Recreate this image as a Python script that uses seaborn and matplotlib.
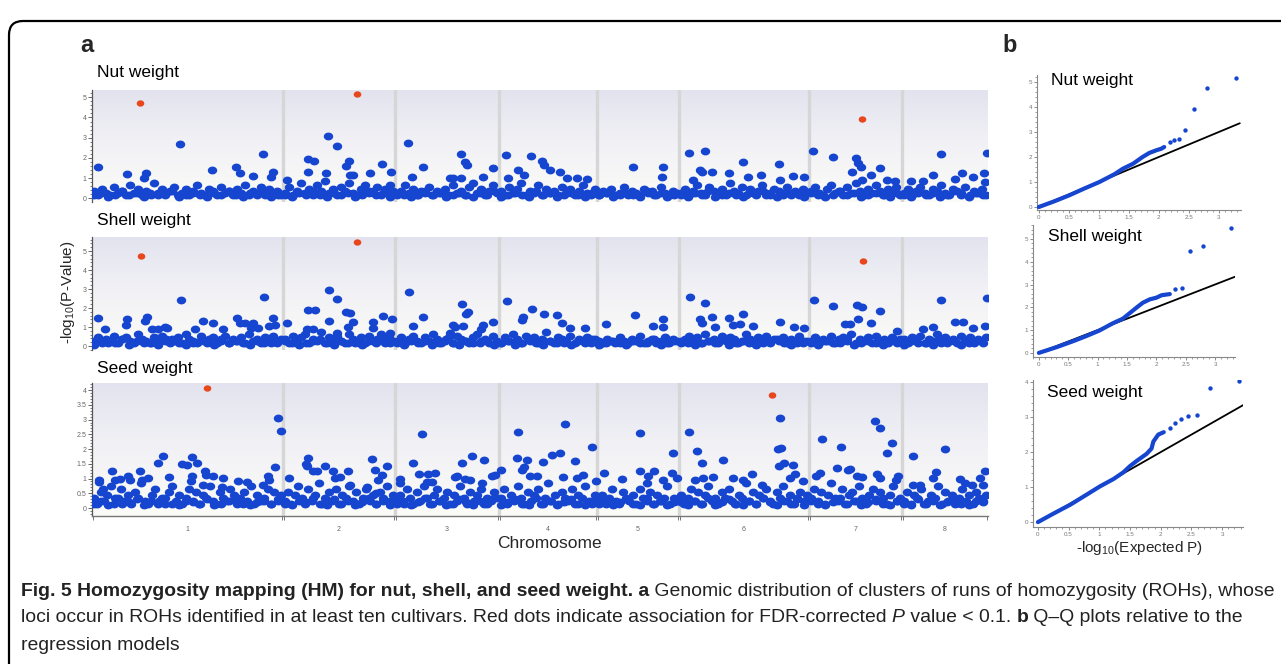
import numpy as np
import pandas as pd
import matplotlib
matplotlib.use("Agg")
import matplotlib.pyplot as plt
import seaborn as sns
from matplotlib.patches import FancyBboxPatch
from matplotlib.transforms import IdentityTransform
from matplotlib.ticker import MultipleLocator, FixedLocator
from matplotlib.colors import LinearSegmentedColormap
from matplotlib.path import Path

# ---------------- data ----------------
chromosomes = ["1", "2", "3", "4", "5", "6", "7", "8"]
chrom_lengths = [191, 112, 104, 98, 82, 130, 93, 86]

# Nut weight: loci above the dense band (position along genome, -log10 P)
nut_pos = [6, 35, 54, 52, 88, 120, 144, 148, 161, 171, 181, 179, 195, 216, 222, 216, 236, 245, 234, 257,
           254, 258, 261, 278, 290, 299, 298, 316, 320, 331, 369, 373, 375, 358, 361, 369, 391, 401, 414, 416,
           426, 439, 450, 452, 432, 458, 468, 475, 485, 495, 541, 571, 570, 597, 613, 608, 610, 601, 620, 637,
           651, 656, 669, 687, 688, 701, 712, 721, 741, 764, 766, 769, 760, 779, 788, 795, 803, 770, 819, 831,
           841, 849, 863, 870, 881, 892, 895, 893]
nut_val = [1.57, 1.2, 1.24, 1.0, 2.69, 1.4, 1.53, 1.27, 1.1, 2.2, 1.32, 1.05, 0.9, 1.93, 1.87, 1.29, 3.1, 2.59, 1.24, 1.86,
           1.6, 1.15, 1.15, 1.27, 1.72, 1.29, 0.66, 2.72, 1.07, 1.53, 2.2, 1.8, 1.65, 1.0, 1.0, 1.0, 1.07, 1.49, 2.15, 1.0,
           1.4, 2.11, 1.86, 1.65, 1.15, 1.4, 1.32, 1.0, 1.0, 0.95, 1.57, 1.53, 1.04, 2.26, 2.36, 1.4, 1.3, 0.9, 1.3, 1.24,
           1.82, 1.04, 1.15, 1.68, 0.9, 1.1, 1.04, 2.36, 2.06, 1.98, 1.73, 1.53, 1.29, 1.15, 1.49, 0.9, 0.87, 0.9, 0.87, 0.87,
           1.15, 2.2, 0.96, 1.24, 1.04, 1.24, 2.26, 0.8]
nut_sig_pos = [48, 265, 770]
nut_sig_val = [4.74, 5.16, 3.93]
nut_band = [
    [.35, .15, .45, .25, .15, .55, .25, .35, .15, .65, .25, .45, .15, .35, .25, .75, .15, .45, .25, .35, .55, .15, .25, .45, .15, .35, .65, .25, .15, .45, .35, .15, .55, .25, .35, .15, .45, .25, .65, .15, .35, .25, .55, .15, .45, .25, .35, .15],
    [.25, .55, .15, .35, .75, .25, .45, .15, .65, .35, .85, .25, .45, .15, .55, .35, .75, .25, .15, .45, .65, .25, .35, .55, .15, .45, .25, .35],
    [.15, .35, .65, .25, .45, .15, .35, .25, .55, .15, .35, .25, .45, .15, .65, .25, .35, .15, .55, .75, .25, .45, .15, .35, .65, .25],
    [.35, .15, .55, .25, .45, .75, .15, .35, .25, .65, .15, .45, .25, .35, .15, .55, .25, .45, .15, .35, .65, .25, .15, .45],
    [.15, .35, .25, .45, .15, .25, .55, .15, .35, .25, .15, .45, .25, .35, .15, .55, .25, .15, .35, .25],
    [.25, .45, .15, .35, .65, .25, .15, .55, .35, .25, .45, .15, .75, .35, .25, .55, .15, .45, .25, .35, .65, .15, .25, .45, .35, .15, .55, .25, .35, .15, .45, .25],
    [.35, .55, .25, .15, .45, .65, .25, .35, .15, .55, .25, .75, .35, .15, .45, .25, .65, .35, .15, .45, .25, .55, .15],
    [.25, .45, .15, .35, .55, .25, .15, .45, .35, .65, .25, .15, .45, .35, .25, .55, .15, .35, .25, .45, .15],
]
nut_floor = [
    [.15, .25, .05, .15, .35, .15, .25, .05, .15, .25, .15, .35, .05, .15, .25, .15, .05, .25, .15, .35, .15, .05, .25, .15, .25, .05, .15],
    [.15, .05, .25, .15, .35, .15, .05, .25, .15, .25, .05, .15, .35, .15, .25, .05],
    [.25, .15, .05, .15, .35, .15, .25, .05, .15, .25, .15, .05, .25, .15, .35],
    [.05, .15, .25, .15, .05, .35, .15, .25, .05, .15, .25, .15, .05, .25],
    [.15, .25, .05, .15, .25, .15, .05, .35, .15, .25, .05, .15],
    [.15, .05, .25, .15, .35, .05, .15, .25, .15, .05, .25, .15, .35, .15, .05, .25, .15, .25, .05],
    [.25, .15, .05, .15, .35, .15, .25, .05, .15, .25, .15, .05, .25],
    [.15, .05, .25, .15, .25, .05, .15, .35, .15, .05, .25, .15],
]

# Shell weight
shell_pos = [6, 13, 35, 34, 55, 53, 60, 66, 73, 75, 103, 111, 121, 131, 145, 148, 153, 161, 159, 166,
             89, 172, 177, 181, 183, 195, 216, 223, 215, 221, 237, 245, 237, 254, 258, 261, 256, 245, 281, 281,
             291, 300, 298, 317, 321, 331, 358, 370, 374, 376, 371, 361, 363, 391, 389, 401, 415, 440, 452, 431,
             430, 465, 470, 478, 493, 514, 543, 561, 571, 571, 598, 613, 608, 610, 620, 623, 637, 641, 648, 651,
             661, 688, 702, 712, 722, 741, 765, 770, 766, 753, 758, 779, 788, 805, 849, 831, 841, 863, 871, 881,
             895, 893]
shell_val = [1.45, 0.87, 1.42, 1.1, 1.54, 1.33, 0.87, 0.87, 1.0, 0.95, 0.87, 1.31, 1.19, 0.87, 1.5, 1.22, 1.22, 1.19, 0.96, 0.93,
             2.4, 2.59, 1.05, 1.45, 1.1, 1.22, 1.89, 1.89, 0.9, 0.87, 2.94, 2.5, 1.33, 1.8, 1.75, 1.28, 1.0, 0.66, 1.28, 0.93,
             1.57, 1.4, 0.7, 2.85, 1.05, 1.54, 0.66, 2.19, 1.7, 1.78, 1.08, 1.1, 1.0, 1.1, 0.87, 1.28, 2.36, 1.94, 1.71, 1.54,
             1.36, 1.63, 1.19, 0.93, 0.93, 1.15, 1.61, 1.05, 1.4, 0.98, 2.6, 2.24, 1.4, 1.19, 1.54, 1.0, 1.5, 1.1, 1.15, 1.66,
             1.05, 1.29, 1.0, 0.93, 2.41, 2.13, 2.17, 2.03, 1.4, 1.15, 1.15, 1.19, 1.82, 0.8, 2.4, 0.87, 1.0, 1.28, 1.28, 0.93,
             2.55, 1.05]
shell_sig_pos = [49, 265, 771]
shell_sig_val = [4.74, 5.47, 4.48]
shell_band = [
    [.25, .45, .15, .35, .25, .55, .15, .35, .45, .25, .15, .65, .35, .25, .15, .45, .25, .55, .35, .15, .25, .45, .15, .65, .35, .25, .15, .55, .25, .35, .45, .15, .25, .55, .15, .35, .25, .45, .15, .65, .25, .35, .15, .45, .25, .55, .15, .35],
    [.35, .15, .55, .25, .45, .65, .15, .35, .25, .75, .15, .45, .35, .55, .25, .15, .65, .35, .25, .45, .15, .55, .25, .35, .65, .15, .45, .25],
    [.25, .45, .15, .35, .55, .25, .15, .45, .25, .65, .35, .15, .25, .45, .15, .55, .35, .25, .15, .45, .65, .25, .35, .15, .55, .25],
    [.15, .45, .25, .65, .35, .15, .55, .25, .45, .15, .35, .75, .25, .15, .45, .35, .25, .55, .15, .35, .25, .45, .15, .35],
    [.25, .15, .35, .25, .15, .45, .25, .15, .35, .25, .55, .15, .25, .35, .15, .25, .45, .15, .35, .25],
    [.15, .35, .55, .25, .45, .15, .65, .25, .35, .15, .55, .25, .45, .35, .15, .25, .65, .35, .15, .45, .25, .55, .15, .35, .25, .45, .15, .35, .25, .55, .15, .25],
    [.25, .45, .15, .35, .25, .55, .15, .35, .45, .25, .65, .15, .35, .25, .45, .15, .55, .25, .35, .15, .45, .25, .35],
    [.35, .15, .45, .25, .55, .15, .35, .25, .65, .15, .45, .25, .35, .15, .55, .25, .45, .15, .35, .25, .45],
]
shell_floor = [
    [.05, .25, .15, .15, .35, .05, .25, .15, .15, .05, .25, .35, .15, .05, .15, .25, .15, .05, .35, .15, .25, .15, .05, .25, .15, .15, .25],
    [.25, .15, .05, .15, .25, .35, .15, .05, .25, .15, .15, .05, .25, .15, .35, .15],
    [.15, .05, .25, .15, .25, .05, .15, .35, .15, .05, .25, .15, .15, .25, .05],
    [.15, .25, .05, .15, .35, .15, .05, .25, .15, .15, .05, .25, .15, .35],
    [.05, .15, .25, .15, .05, .25, .15, .15, .35, .05, .15, .25],
    [.25, .15, .05, .15, .25, .15, .35, .05, .15, .25, .15, .05, .15, .25, .35, .15, .05, .15, .25],
    [.15, .05, .25, .15, .15, .35, .05, .15, .25, .15, .05, .25, .15],
    [.05, .25, .15, .15, .05, .35, .15, .25, .05, .15, .25, .15],
]

# Seed weight
seed_pos = [20, 7, 7, 11, 23, 28, 36, 38, 48, 50, 56, 66, 71, 77, 90, 95, 100, 105, 100, 99,
            113, 114, 111, 121, 131, 130, 146, 155, 171, 176, 177, 183, 186, 189, 197, 214, 215, 216, 221, 225,
            233, 241, 243, 248, 256, 258, 275, 280, 283, 290, 286, 295, 284, 308, 308, 321, 327, 330, 336, 343,
            335, 340, 363, 365, 370, 380, 373, 378, 390, 392, 400, 403, 409, 426, 425, 435, 430, 432, 451, 460,
            468, 473, 483, 500, 438, 445, 471, 491, 504, 485, 512, 530, 548, 548, 562, 556, 555, 571, 580, 581,
            585, 597, 605, 610, 603, 611, 621, 631, 641, 651, 660, 670, 688, 686, 689, 687, 692, 701, 698, 703,
            711, 730, 728, 724, 749, 745, 756, 758, 765, 770, 783, 788, 800, 795, 785, 788, 806, 804, 821, 853,
            844, 841, 868, 873, 880, 893, 888, 891, 821, 828]
seed_val = [1.24, 0.96, 0.88, 0.64, 0.96, 0.98, 1.07, 0.96, 1.24, 0.96, 1.01, 1.54, 1.75, 1.05, 1.49, 1.46, 1.72, 1.52, 1.07, 0.92,
            1.27, 1.13, 0.79, 1.07, 1.01, 0.73, 0.9, 0.87, 0.79, 1.1, 0.96, 1.39, 3.04, 2.61, 1.01, 1.5, 1.41, 1.69, 1.24, 1.24,
            1.43, 1.24, 1.01, 1.05, 1.24, 0.79, 0.73, 1.66, 1.3, 1.13, 0.96, 1.43, 0.51, 0.98, 0.85, 1.52, 1.15, 2.5, 1.15, 1.18,
            0.87, 0.87, 1.05, 1.09, 1.52, 1.77, 0.98, 0.96, 0.85, 1.63, 1.09, 1.11, 1.3, 2.58, 1.7, 1.63, 1.3, 1.39, 1.57, 1.8,
            1.86, 2.86, 1.61, 2.08, 1.07, 1.07, 1.05, 1.13, 0.92, 1.01, 1.2, 0.98, 2.55, 1.26, 1.26, 1.07, 0.85, 0.96, 1.18, 1.86,
            1.01, 2.58, 1.92, 1.53, 0.96, 1.01, 1.05, 1.63, 1.01, 0.96, 1.16, 0.79, 3.07, 2.0, 2.02, 1.41, 1.52, 1.46, 1.01, 1.16,
            0.9, 2.33, 1.18, 1.07, 2.06, 1.35, 1.3, 1.32, 1.07, 1.05, 2.96, 2.73, 2.2, 1.85, 1.15, 1.01, 1.07, 0.96, 1.77, 2.0,
            1.23, 1.01, 0.98, 0.85, 0.79, 1.26, 1.01, 0.79, 0.79, 0.79]
seed_sig_pos = [115, 680]
seed_sig_val = [4.08, 3.83]
seed_band = [
    [.35, .15, .55, .25, .45, .75, .15, .35, .65, .25, .45, .15, .55, .35, .85, .25, .15, .45, .65, .25, .35, .15, .55, .75, .25, .45, .15, .35, .65, .25, .55, .15, .45, .35, .75, .25, .15, .55, .35, .25, .65, .45, .15, .35, .55, .25, .75, .15, .45, .25, .35, .65, .15, .55, .25, .45],
    [.25, .55, .15, .45, .75, .35, .15, .65, .25, .45, .85, .15, .35, .55, .25, .65, .15, .45, .35, .75, .25, .55, .15, .35, .65, .25, .45, .15, .55, .35, .75, .25, .45],
    [.15, .45, .25, .65, .35, .15, .55, .25, .75, .35, .15, .45, .65, .25, .35, .55, .15, .45, .25, .75, .35, .15, .55, .25, .45, .65, .15, .35, .25, .55, .35],
    [.35, .65, .15, .45, .25, .75, .35, .15, .55, .25, .45, .65, .15, .35, .85, .25, .45, .15, .55, .35, .25, .65, .15, .45, .35, .75, .25, .15, .45],
    [.25, .45, .15, .35, .65, .25, .15, .55, .35, .25, .45, .15, .65, .35, .25, .55, .15, .45, .25, .35, .75, .15, .35, .25],
    [.45, .15, .35, .65, .25, .55, .15, .45, .75, .25, .35, .15, .55, .35, .65, .25, .15, .45, .35, .85, .25, .55, .15, .45, .35, .65, .25, .15, .55, .35, .75, .25, .45, .15, .35, .55, .25, .45],
    [.35, .65, .25, .55, .15, .45, .85, .35, .25, .65, .15, .45, .55, .25, .75, .35, .15, .45, .65, .25, .55, .35, .15, .45, .75, .25, .35],
    [.25, .55, .15, .45, .35, .65, .15, .25, .45, .35, .75, .15, .55, .25, .45, .15, .35, .65, .25, .45, .15, .55, .35, .25, .45],
]
seed_floor = [
    [.15, .25, .1, .35, .15, .2, .3, .1, .25, .15, .35, .15, .1, .25, .2, .15, .3, .1, .15, .25, .35, .15, .1, .2, .25, .15, .3],
    [.15, .1, .25, .2, .35, .15, .1, .3, .15, .25, .1, .2, .35, .15, .25, .1],
    [.25, .15, .1, .2, .35, .15, .25, .1, .15, .3, .2, .1, .25, .15, .35],
    [.1, .2, .3, .15, .1, .35, .15, .25, .1, .2, .3, .15, .1, .25],
    [.15, .25, .1, .2, .3, .15, .1, .35, .15, .25, .1, .2],
    [.2, .1, .25, .15, .35, .1, .2, .3, .15, .1, .25, .15, .35, .2, .1, .25, .15, .3, .1],
    [.25, .15, .1, .2, .35, .15, .25, .1, .2, .3, .15, .1, .25],
    [.15, .1, .3, .15, .25, .1, .2, .35, .15, .1, .25, .2],
]

# Q-Q plots: dense part of the curve, isolated tail points, and y = x reference
qq_diag = [0.0, 3.35]
qq_nut_exp = [0, 0.25, 0.51, 0.75, 1.01, 1.26, 1.4, 1.57, 1.73, 1.84, 1.96, 2.04, 2.09]
qq_nut_obs = [0, 0.22, 0.47, 0.73, 1.0, 1.31, 1.53, 1.73, 2.0, 2.16, 2.27, 2.33, 2.4]
qq_nut_tail_exp = [2.18, 2.25, 2.34, 2.44, 2.59, 2.81, 3.29]
qq_nut_tail_obs = [2.6, 2.67, 2.73, 3.09, 3.9, 4.76, 5.17]
qq_shell_exp = [0, 0.3, 0.58, 0.8, 1.03, 1.26, 1.43, 1.55, 1.66, 1.77, 1.89, 2.0, 2.09, 2.23]
qq_shell_obs = [0, 0.25, 0.51, 0.73, 0.98, 1.3, 1.5, 1.75, 1.98, 2.2, 2.35, 2.42, 2.53, 2.58]
qq_shell_tail_exp = [2.32, 2.44, 2.57, 2.8, 3.28]
qq_shell_tail_obs = [2.8, 2.84, 4.48, 4.69, 5.47]
qq_seed_exp = [0, 0.25, 0.53, 0.78, 1.01, 1.23, 1.39, 1.5, 1.61, 1.77, 1.85, 1.88, 1.96, 2.05]
qq_seed_obs = [0, 0.24, 0.5, 0.77, 1.02, 1.23, 1.42, 1.6, 1.75, 1.95, 2.1, 2.3, 2.5, 2.57]
qq_seed_tail_exp = [2.15, 2.24, 2.33, 2.44, 2.59, 2.81, 3.28]
qq_seed_tail_obs = [2.7, 2.83, 2.94, 3.02, 3.05, 3.82, 4.04]

# ---------------- style ----------------
sns.set_theme(style="white")
plt.rcParams["font.family"] = ["Liberation Sans", "DejaVu Sans"]
plt.rcParams["mathtext.fontset"] = "custom"
plt.rcParams["mathtext.rm"] = "Liberation Sans"
plt.rcParams["mathtext.it"] = "Liberation Sans:italic"

BLUE = "#1646cf"
RED = "#e8461c"
W, H = 1281, 664
fig = plt.figure(figsize=(W / 100, H / 100), dpi=100)
fig.patch.set_facecolor("white")

# slightly wide elliptical dot, like the original rendering
_t = np.linspace(0, 2 * np.pi, 41)
ELLIPSE = Path(np.column_stack([1.2 * np.cos(_t), np.sin(_t)]), closed=True)


def px_axes(left, top, right, bottom):
    return fig.add_axes([left / W, 1 - bottom / H, (right - left) / W, (bottom - top) / H])


def ftext(x, y, s, **kw):
    return fig.text(x / W, 1 - y / H, s, **kw)


starts = np.concatenate([[0], np.cumsum(chrom_lengths)[:-1]])
total = float(sum(chrom_lengths))
mids = starts + np.array(chrom_lengths) / 2.0
bg_cmap = LinearSegmentedColormap.from_list("bg", ["#e3e3ef", "#f2f2f6", "#fbfbf7"])


def band_frame(band, shift):
    xs, ys = [], []
    for c, vals in enumerate(band):
        n = len(vals)
        for i, v in enumerate(vals):
            xs.append(starts[c] + (i + shift) * chrom_lengths[c] / n)
            ys.append(v)
    return pd.DataFrame({"pos": xs, "val": ys})


def manhattan(ax, pos, val, band, floor, sig_pos, sig_val, ylim, major, minor, show_x):
    grad = np.linspace(0, 1, 256)[:, None]
    ax.imshow(grad, extent=(0, total, ylim[0], ylim[1]), origin="upper", aspect="auto",
              cmap=bg_cmap, zorder=0, interpolation="bilinear")
    for b in starts[1:]:
        ax.axvline(b, color="#d6d6d6", lw=2.4, zorder=1)
    dfa = pd.concat([band_frame(floor, 0.3), band_frame(band, 0.5),
                     pd.DataFrame({"pos": pos, "val": val})], ignore_index=True)
    sns.scatterplot(data=dfa, x="pos", y="val", color=BLUE, s=46, marker=ELLIPSE,
                    linewidth=0, ax=ax, zorder=3)
    dfs = pd.DataFrame({"pos": sig_pos, "val": sig_val})
    sns.scatterplot(data=dfs, x="pos", y="val", color=RED, s=30, marker=ELLIPSE,
                    linewidth=0, ax=ax, zorder=4)
    ax.set_xlim(0, total)
    ax.set_ylim(*ylim)
    ax.set_xlabel("")
    ax.set_ylabel("")
    for s in ["top", "right"]:
        ax.spines[s].set_visible(False)
    ax.spines["left"].set_color("#555555")
    ax.spines["left"].set_linewidth(0.9)
    ax.yaxis.set_major_locator(MultipleLocator(major))
    ax.yaxis.set_minor_locator(MultipleLocator(minor))
    ax.tick_params(axis="y", which="major", direction="out", length=3, width=0.7,
                   colors="#666666", labelsize=5, pad=1, left=True)
    ax.tick_params(axis="y", which="minor", direction="out", length=1.8, width=0.6,
                   colors="#666666", left=True)
    ax.yaxis.set_major_formatter(matplotlib.ticker.FuncFormatter(lambda v, p: f"{v:g}"))
    if show_x:
        ax.spines["bottom"].set_visible(True)
        ax.spines["bottom"].set_color("#777777")
        ax.spines["bottom"].set_linewidth(1.0)
        ax.set_xticks(mids)
        ax.set_xticklabels(chromosomes)
        ax.tick_params(axis="x", which="major", length=0, labelsize=5, colors="#666666", pad=7)
        bpos = []
        for b in list(starts) + [total]:
            bpos += [b - 1.2, b + 1.2]
        ax.xaxis.set_minor_locator(FixedLocator(bpos))
        ax.tick_params(axis="x", which="minor", direction="out", length=3, width=0.7,
                       colors="#777777", bottom=True)
    else:
        ax.spines["bottom"].set_visible(False)
        ax.set_xticks([])


def qq(ax, exp, obs, texp, tobs, xlim, ylim, ymajor, yminor):
    sns.lineplot(x=qq_diag, y=qq_diag, color="black", lw=1.3, ax=ax, zorder=2)
    sns.lineplot(x=exp, y=obs, color=BLUE, lw=3.0, ax=ax, sort=False, estimator=None, zorder=3)
    sns.scatterplot(x=texp, y=tobs, color=BLUE, s=10, linewidth=0, ax=ax, zorder=4)
    ax.set_xlim(*xlim)
    ax.set_ylim(*ylim)
    for s in ["top", "right"]:
        ax.spines[s].set_visible(False)
    for s in ["left", "bottom"]:
        ax.spines[s].set_color("#888888")
        ax.spines[s].set_linewidth(0.8)
    ax.set_facecolor("white")
    ax.xaxis.set_major_locator(MultipleLocator(0.5))
    ax.xaxis.set_minor_locator(MultipleLocator(0.1))
    ax.yaxis.set_major_locator(MultipleLocator(ymajor))
    ax.yaxis.set_minor_locator(MultipleLocator(yminor))
    fmt = matplotlib.ticker.FuncFormatter(lambda v, p: f"{v:g}")
    ax.xaxis.set_major_formatter(fmt)
    ax.yaxis.set_major_formatter(fmt)
    ax.tick_params(which="major", direction="out", length=2.5, width=0.6, colors="#777777",
                   labelsize=4.5, pad=1, left=True, bottom=True)
    ax.tick_params(which="minor", direction="out", length=1.5, width=0.5, colors="#777777",
                   left=True, bottom=True)
    ax.set_xlabel("")
    ax.set_ylabel("")


# ---------------- panel a ----------------
ax1 = px_axes(92, 90, 988, 202)
manhattan(ax1, nut_pos, nut_val, nut_band, nut_floor, nut_sig_pos, nut_sig_val, (-0.18, 5.36), 1, 0.2, False)
ax2 = px_axes(92, 237, 988, 350)
manhattan(ax2, shell_pos, shell_val, shell_band, shell_floor, shell_sig_pos, shell_sig_val, (-0.21, 5.74), 1, 0.2, False)
ax3 = px_axes(92, 383, 988, 516)
manhattan(ax3, seed_pos, seed_val, seed_band, seed_floor, seed_sig_pos, seed_sig_val, (-0.27, 4.24), 0.5, 0.1, True)

# ---------------- panel b ----------------
bx1 = px_axes(1037, 75, 1241, 210)
qq(bx1, qq_nut_exp, qq_nut_obs, qq_nut_tail_exp, qq_nut_tail_obs, (-0.03, 3.37), (-0.12, 5.28), 1, 0.2)
bx2 = px_axes(1033, 225, 1235, 357)
qq(bx2, qq_shell_exp, qq_shell_obs, qq_shell_tail_exp, qq_shell_tail_obs, (-0.1, 3.34), (-0.18, 5.61), 1, 0.2)
bx3 = px_axes(1033, 380, 1243, 527)
qq(bx3, qq_seed_exp, qq_seed_obs, qq_seed_tail_exp, qq_seed_tail_obs, (-0.08, 3.34), (-0.14, 4.06), 1, 0.2)

# ---------------- texts ----------------
ftext(80, 45, "a", fontsize=17, fontweight="bold", va="center", ha="left")
ftext(1002, 45, "b", fontsize=17, fontweight="bold", va="center", ha="left")
title_kw = dict(fontsize=12.5, va="center", ha="left", color="black")
ftext(97, 72, "Nut weight", **title_kw)
ftext(97, 221, "Shell weight", **title_kw)
ftext(97, 369, "Seed weight", **title_kw)
ftext(1051, 81, "Nut weight", **title_kw)
ftext(1048, 237, "Shell weight", **title_kw)
ftext(1047, 392, "Seed weight", **title_kw)
ftext(68, 292, "-log$_{10}$(P-Value)", fontsize=11, rotation=90, va="center", ha="center")
ftext(549, 543, "Chromosome", fontsize=12.5, va="center", ha="center")
ftext(1140, 548, "-log$_{10}$(Expected P)", fontsize=11, va="center", ha="center")

# frame with rounded corner
frame = FancyBboxPatch((9, -40), 1320, 683, boxstyle="round,pad=0,rounding_size=14",
                       transform=IdentityTransform(), fill=False, edgecolor="black", lw=1.6,
                       clip_on=False)
fig.patches.append(frame)

# caption (rich text placed segment by segment, font size fitted to the line width)
cap_family = ["Liberation Sans", "DejaVu Sans"]
renderer = fig.canvas.get_renderer()
line1 = [("Fig. 5 Homozygosity mapping (HM) for nut, shell, and seed weight.", dict(fontweight="bold")),
         (" a", dict(fontweight="bold")),
         (" Genomic distribution of clusters of runs of homozygosity (ROHs), whose", {})]
line2 = [("loci occur in ROHs identified in at least ten cultivars. Red dots indicate association for FDR-corrected ", {}),
         ("P", dict(style="italic")),
         (" value < 0.1. ", {}),
         ("b", dict(fontweight="bold")),
         (" Q\u2013Q plots relative to the", {})]
line3 = [("regression models", {})]


def measure(segments, size):
    w = 0
    for txt, kw in segments:
        t = fig.text(0, 0, txt, fontsize=size, family=cap_family, **kw)
        w += t.get_window_extent(renderer=renderer).width
        t.remove()
    return w


cap_size = 10 * 1254 / measure(line1, 10)


def rich_line(segments, x_px, y_px):
    x = x_px
    for txt, kw in segments:
        t = ftext(x, y_px, txt, fontsize=cap_size, va="center", ha="left", family=cap_family,
                  color="#222222", **kw)
        x += t.get_window_extent(renderer=renderer).width


rich_line(line1, 21, 591)
rich_line(line2, 21, 618)
rich_line(line3, 21, 645)

fig.savefig("out.png", dpi=100, facecolor="white")
